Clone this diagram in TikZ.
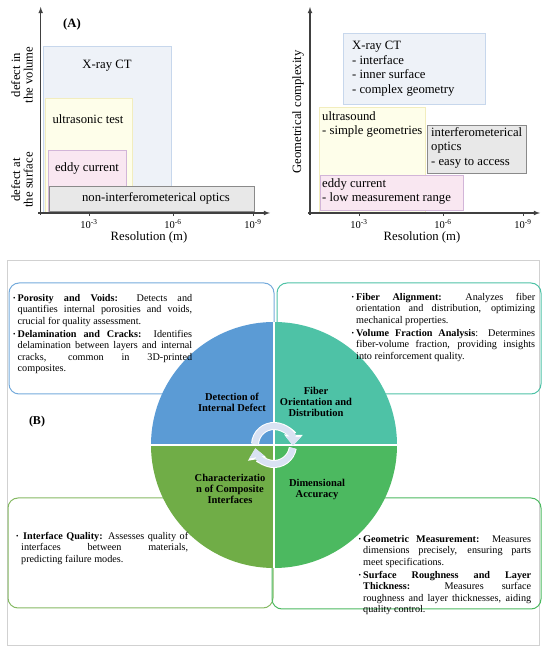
\documentclass[tikz,border=0pt]{standalone}
\usepackage{fontspec}
\setmainfont{Liberation Serif}
\usetikzlibrary{arrows.meta}

\definecolor{ctfill}{HTML}{EEF2F8}\definecolor{ctline}{HTML}{C7D7EC}
\definecolor{usfill}{HTML}{FEFEEA}\definecolor{usline}{HTML}{F2EDBE}
\definecolor{ecfill}{HTML}{F9E7F1}\definecolor{ecline}{HTML}{D2B5D8}
\definecolor{opfill}{HTML}{E8E8E8}\definecolor{opline}{HTML}{8A8A8A}
\definecolor{qblue}{HTML}{5B9BD5}\definecolor{qteal}{HTML}{4EC2A6}
\definecolor{qgreen}{HTML}{70AD47}\definecolor{qlime}{HTML}{4CB960}
\definecolor{cycarrowcol}{HTML}{D9E2F3}

\newcommand{\bitem}{\par\noindent\hangindent=4.5pt\hangafter=1\makebox[4.5pt][l]{\raisebox{0.4pt}{\scriptsize\textbullet}}}

\tikzset{
  axis/.style={->,>=latex,line width=1.1pt,draw=black!75},
  tickmark/.style={line width=0.6pt,draw=black!75},
  ticklabel/.style={font=\fontsize{10.5}{12}\selectfont,inner sep=0pt},
  plabel/.style={font=\fontsize{12.7}{14.5}\selectfont,inner sep=0pt},
  ylab/.style={font=\fontsize{12.7}{12.5}\selectfont,inner sep=0pt,rotate=90,align=center},
  qlabel/.style={font=\bfseries\fontsize{10.5}{11}\selectfont,align=center,inner sep=0pt},
  infobox/.style={rounded corners=10pt,line width=1pt},
  infotext/.style={font=\fontsize{10.2}{11.5}\selectfont\setlength{\parskip}{1.5pt},align=justify,inner sep=0pt,anchor=north west},
  cycarrow/.style={line width=6pt,draw=cycarrowcol,-{Triangle[width=15pt,length=9pt]},
    preaction={draw=white,line width=8pt,-{Triangle[width=18pt,length=11pt]}}}
}

\begin{document}
\begin{tikzpicture}[x=1pt,y=1pt]
\useasboundingbox (0,0) rectangle (550,650);

% (A) left: defect location vs resolution
\filldraw[fill=ctfill,draw=ctline] (43,604) rectangle (171,437);
\filldraw[fill=usfill,draw=usline] (45,552) rectangle (132,437);
\filldraw[fill=ecfill,draw=ecline] (48,500) rectangle (126,437);
\filldraw[fill=opfill,draw=opline,line width=0.8pt] (49,464) rectangle (254,439);
\node[plabel] (xrayL) at (107,584) {X-ray CT};
\node[plabel] (usL) at (88,531) {ultrasonic test};
\node[plabel] (ecL) at (87,482) {eddy current};
\node[plabel] (optL) at (156,452) {non-interferometerical optics};
\node[font=\bfseries\fontsize{12.7}{14}\selectfont] (labA) at (72,626) {(A)};
\node[ylab] (volL) at (22,575) {defect in\\the volume};
\node[ylab] (surfL) at (22,470) {defect at\\the surface};
\coordinate (oL) at (38,437);
\coordinate (xL) at (270,437);
\coordinate (yL0) at (40.7,435);
\coordinate (yL) at (40.7,643);
\draw[axis] (oL) -- (xL);
\draw[axis] (yL0) -- (yL);
\foreach \x/\e in {89/3,173/6,253/9}{
  \draw[tickmark] (\x,434) -- (\x,437);
  \node[ticklabel] (tL\e) at (\x,426) {10\textsuperscript{-\e}};
}
\node[plabel] (resL) at (149,413) {Resolution (m)};

% (A) right: geometrical complexity vs resolution
\filldraw[fill=ctfill,draw=ctline] (343,617) rectangle (485,546);
\filldraw[fill=usfill,draw=usline] (319,543) rectangle (425,437);
\filldraw[fill=opfill,draw=opline,line width=0.8pt] (427,525) rectangle (526,477);
\filldraw[fill=ecfill,draw=ecline] (320,475) rectangle (463,440);
\node[plabel,align=left,anchor=west] (xrayR) at (352,581.5) {X-ray CT\\- interface\\- inner surface\\- complex geometry};
\node[plabel,align=left,anchor=west] (usR) at (322,525.5) {ultrasound\\- simple geometries};
\node[plabel,align=left,anchor=west] (optR) at (431,502.5) {interferometerical\\optics\\- easy to access};
\node[plabel,align=left,anchor=west] (ecR) at (322,458.5) {eddy current\\- low measurement range};
\node[ylab] (geoR) at (298,538) {Geometrical complexity};
\coordinate (oR) at (308,437);
\coordinate (xR) at (540,437);
\coordinate (yR0) at (310,435);
\coordinate (yR) at (310,643);
\draw[axis] (oR) -- (xR);
\draw[axis] (yR0) -- (yR);
\foreach \x/\e in {359/3,443/6,523/9}{
  \draw[tickmark] (\x,434) -- (\x,437);
  \node[ticklabel] (tR\e) at (\x,426) {10\textsuperscript{-\e}};
}
\node[plabel] (resR) at (422,413) {Resolution (m)};

% (B) frame and text boxes
\draw[draw=black!18,line width=1pt] (7,389) rectangle (539,4);
\draw[infobox,draw=qblue!85] (9,367) rectangle (274,256);
\draw[infobox,draw=qteal] (277,367) rectangle (541,256);
\draw[infobox,draw=qgreen!85] (8,152) rectangle (273,42);
\draw[infobox,draw=qlime] (272,152) rectangle (541,41);

% (B) circle
\coordinate (c) at (274,205);
\fill[qblue] (c) -- ++(90:123) arc (90:180:123) -- cycle;
\fill[qteal] (c) -- ++(0:123) arc (0:90:123) -- cycle;
\fill[qgreen] (c) -- ++(180:123) arc (180:270:123) -- cycle;
\fill[qlime] (c) -- ++(270:123) arc (270:360:123) -- cycle;
\draw[white,line width=1.8pt] ([yshift=123pt]c) -- ([yshift=-123pt]c);
\draw[white,line width=1.8pt] ([xshift=-123pt]c) -- ([xshift=123pt]c);
\draw[cycarrow] ([shift={(177:19)}]c) arc (177:-2:19);
\draw[cycarrow] ([shift={(-9:19)}]c) arc (-9:-170:19);

\node[qlabel] (defect) at (232,248) {Detection of\\Internal Defect};
\node[qlabel] (fiber) at (316,248) {Fiber\\Orientation and\\Distribution};
\node[qlabel] (interf) at (230,161) {Characterizatio\\n of Composite\\Interfaces};
\node[qlabel] (dimacc) at (317,161) {Dimensional\\Accuracy};
\node[font=\bfseries\fontsize{12}{14}\selectfont] (labB) at (37,228) {(B)};

\node[infotext,text width=179pt] (porosity) at (13,362) {%
\bitem\textbf{Porosity and Voids:} Detects and\linebreak quantifies internal porosities and voids,\linebreak crucial for quality assessment.
\bitem\textbf{Delamination and Cracks:} Identifies\linebreak delamination between layers and internal\linebreak cracks, common in 3D-printed\linebreak composites.\par};
\node[infotext,text width=183.5pt] (alignment) at (351.5,363) {%
\bitem\textbf{Fiber Alignment:} Analyzes fiber\linebreak orientation and distribution, optimizing\linebreak mechanical properties.
\bitem\textbf{Volume Fraction Analysis}: Determines\linebreak fiber-volume fraction, providing insights\linebreak into reinforcement quality.\par};
\node[infotext,text width=172pt] (quality) at (16,118) {%
\noindent\hangindent=5pt\hangafter=1\makebox[7pt][l]{\raisebox{0.4pt}{\scriptsize\textbullet}}\textbf{Interface Quality:} Assesses quality of\linebreak interfaces between materials,\linebreak predicting failure modes.\par};
\node[infotext,text width=172.5pt] (geometric) at (358.5,121) {%
\bitem\textbf{Geometric Measurement:} Measures\linebreak dimensions precisely, ensuring parts\linebreak meet specifications.
\bitem\textbf{Surface Roughness and Layer\linebreak Thickness:} Measures surface\linebreak roughness and layer thicknesses, aiding\linebreak quality control.\par};
\end{tikzpicture}
\end{document}
